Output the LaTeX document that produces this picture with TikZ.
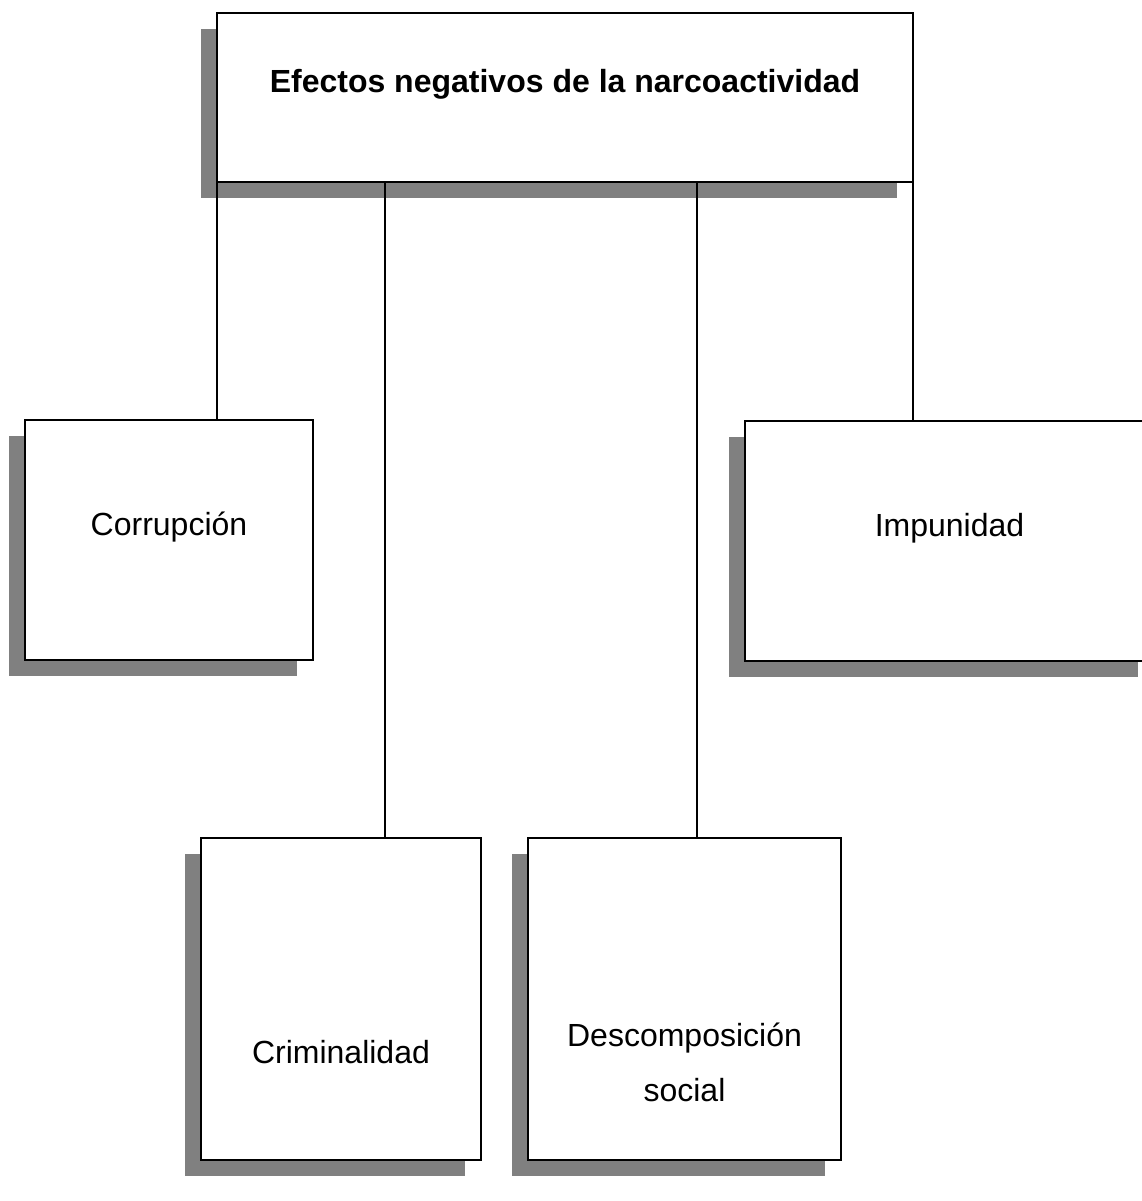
\documentclass[tikz,border=0pt]{standalone}
\usepackage{fontspec}
\setmainfont{Liberation Sans}
\usetikzlibrary{shadows}
\definecolor{shadowgray}{HTML}{808080}
\begin{document}
\begin{tikzpicture}[x=1pt,y=-1pt,
  effbox/.style={draw=black, line width=1.6pt, fill=white, inner sep=0pt, outer sep=0pt,
    general shadow={fill=shadowgray, shadow xshift=-16pt, shadow yshift=-16pt}},
  efftext/.style={anchor=base, font=\fontsize{32}{55}\selectfont, inner sep=0pt, align=center},
  link/.style={draw=black, line width=1.6pt}]
\useasboundingbox (0,0) rectangle (1142,1201);
\fill[white] (0,0) rectangle (1142,1201);
% boxes
\node[effbox, minimum width=696pt, minimum height=169pt] (top) at (565,97.5) {};
\node[effbox, minimum width=288pt, minimum height=240pt] (corr) at (169,540) {};
\node[effbox, minimum width=409pt, minimum height=240pt] (imp) at (949.5,541) {};
\node[effbox, minimum width=280pt, minimum height=322pt] (crim) at (341,999) {};
\node[effbox, minimum width=313pt, minimum height=322pt] (desc) at (684.5,999) {};
% texts
\node[efftext, font=\fontsize{32}{55}\selectfont\bfseries] (ttop) at (565,92.5) {Efectos negativos de la narcoactividad};
\node[efftext] (tcorr) at (169,535) {Corrupción};
\node[efftext] (timp) at (949.5,536) {Impunidad};
\node[efftext] (tcrim) at (341,1063) {Criminalidad};
\node[efftext] (tdesc) at (684.5,1101) {Descomposición\\social};
% connector start points on the top box
\coordinate (s1) at (top.south west);
\coordinate (s2) at (385,182);
\coordinate (s3) at (697,182);
\coordinate (s4) at (top.south east);
\draw[link] (s1) -- (s1 |- corr.north);
\draw[link] (s2) -- (s2 |- crim.north);
\draw[link] (s3) -- (s3 |- desc.north);
\draw[link] (s4) -- (s4 |- imp.north);
\end{tikzpicture}
\end{document}
